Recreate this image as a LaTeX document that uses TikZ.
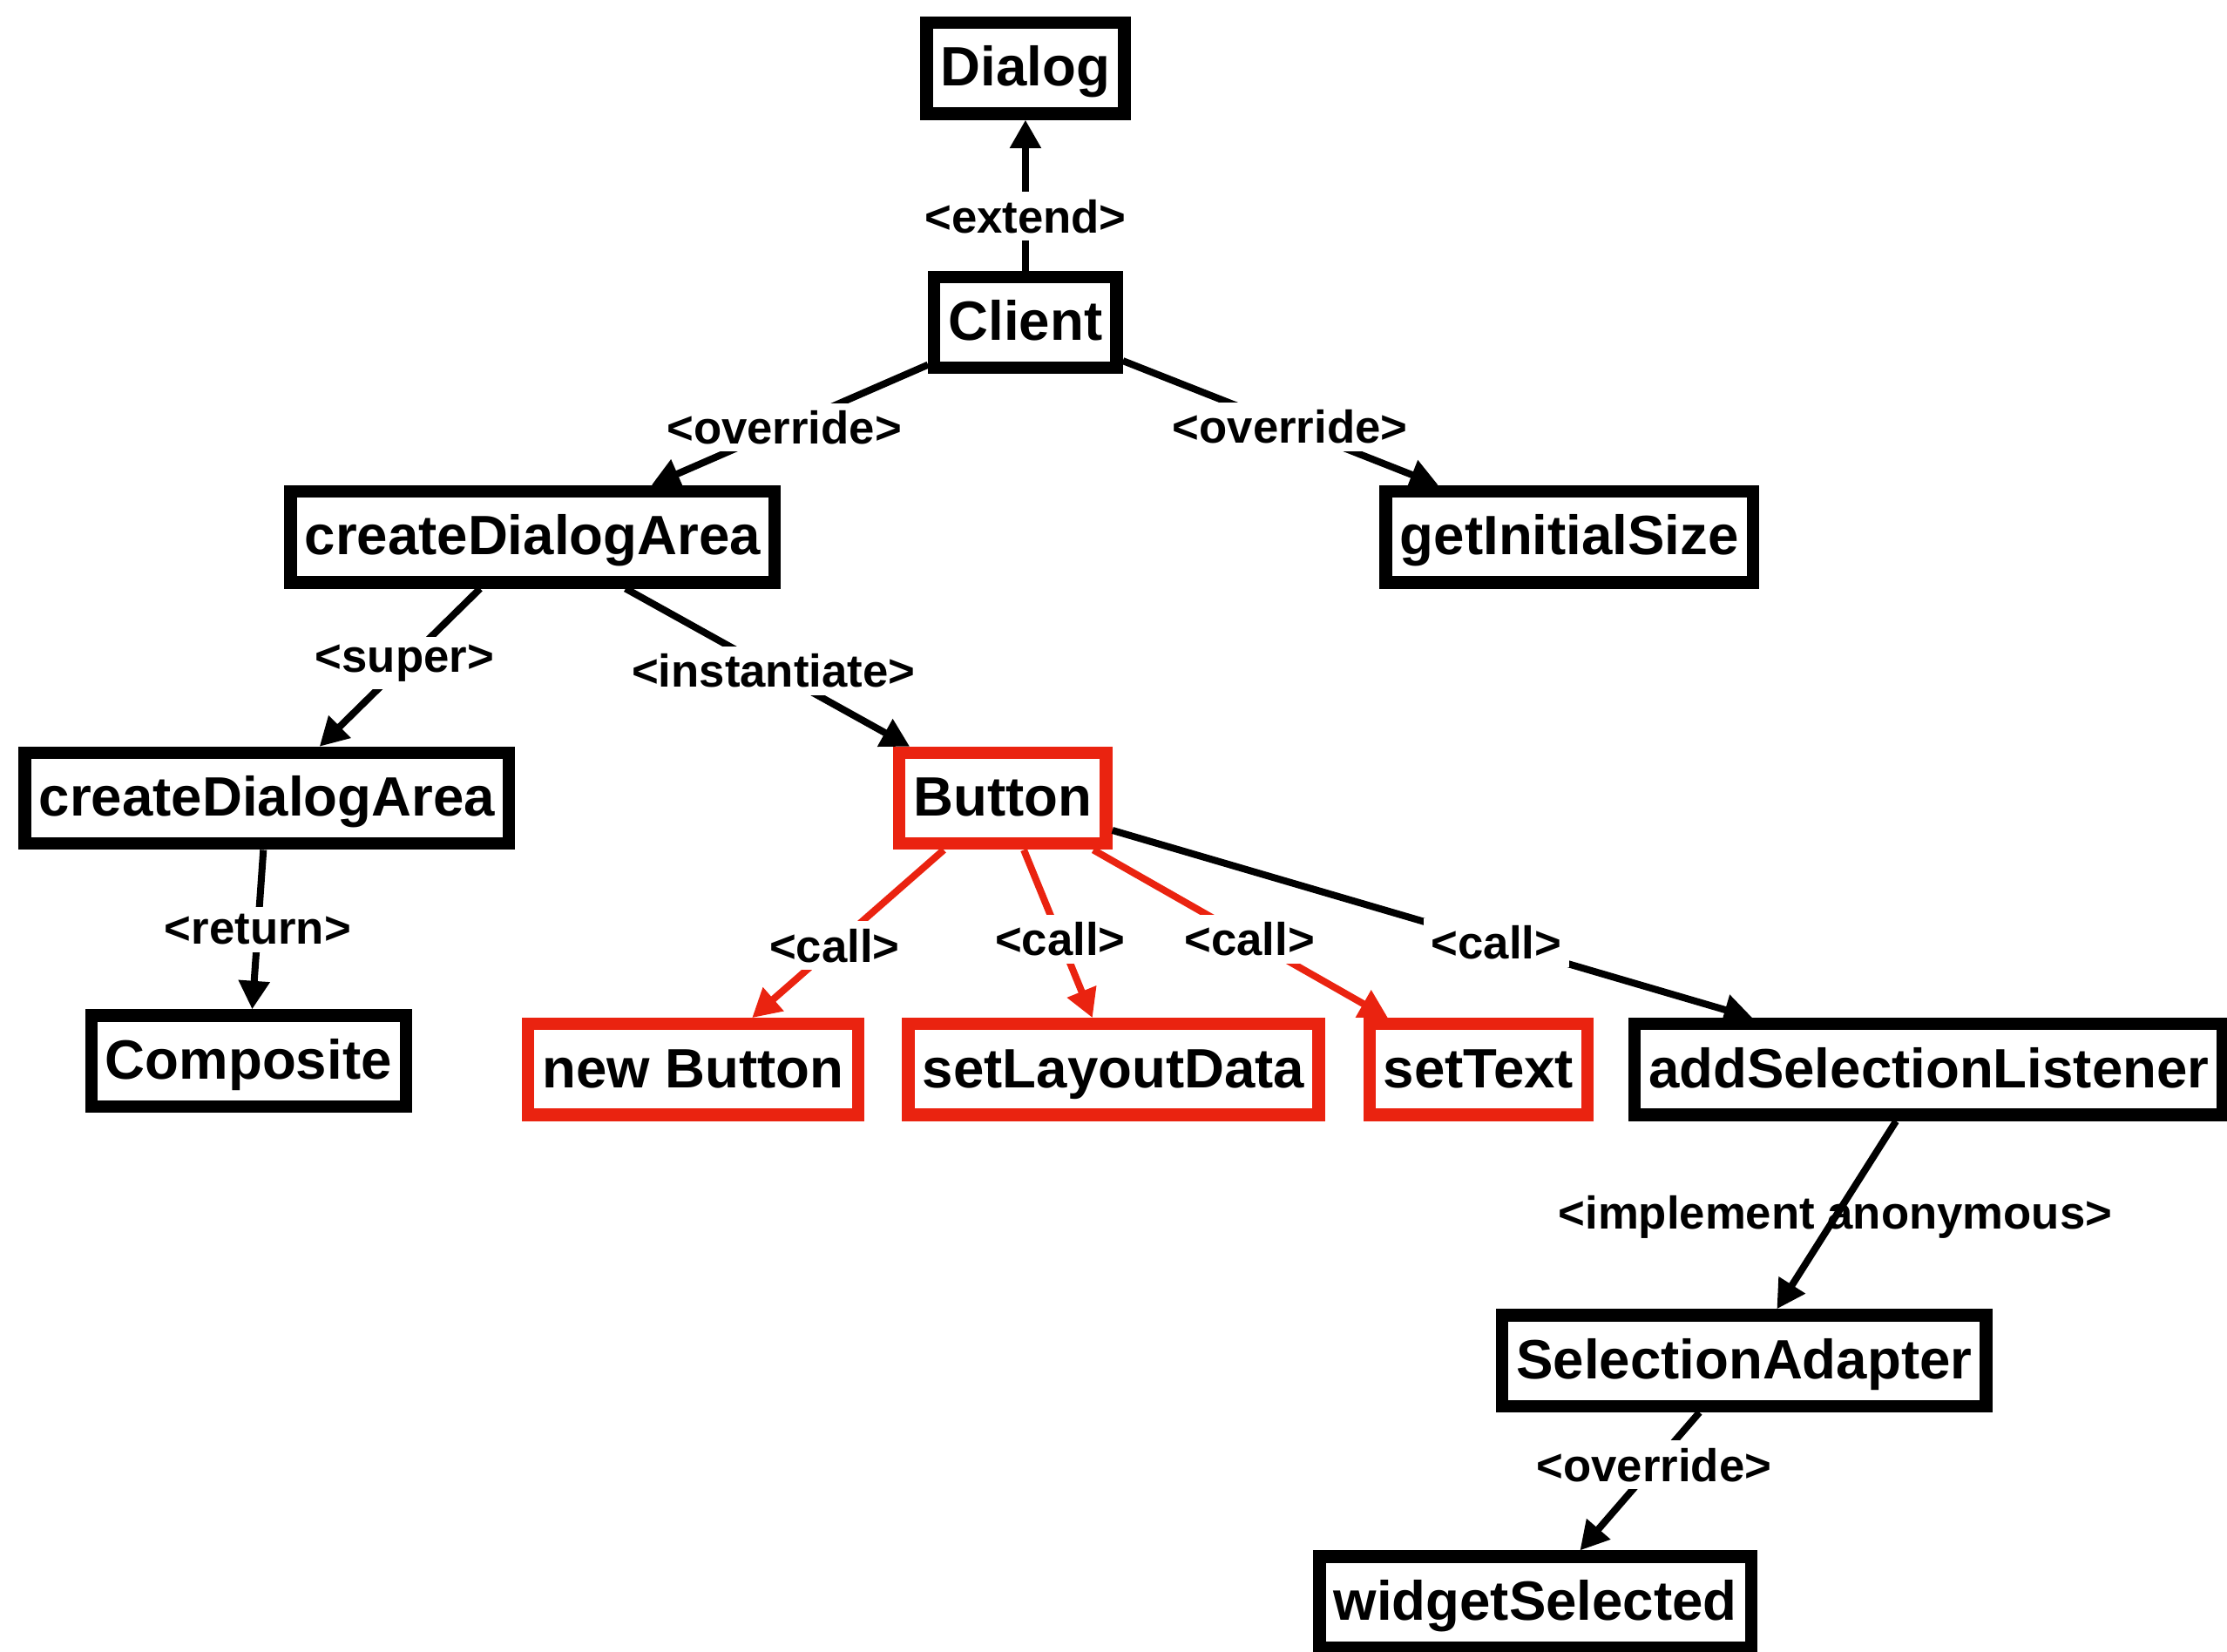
\documentclass[tikz,border=0pt]{standalone}
\usepackage{fontspec}
\setmainfont{Liberation Sans}
\usetikzlibrary{arrows.meta}
\definecolor{callred}{RGB}{234,35,16}

\begin{document}
\begin{tikzpicture}[
  box/.style={draw, line width=2.5pt, font=\fontsize{11.1}{13}\selectfont\bfseries,
    inner xsep=0.1cm, inner ysep=0pt, minimum height=0.64cm,
    text height=0.92em, text depth=0.2em},
  redbox/.style={box, draw=callred},
  link/.style={line width=1.4pt, -{Triangle[length=0.2cm,width=0.21cm]}},
  redlink/.style={link, draw=callred},
  lbl/.style={fill=white, text=black, inner sep=1.5pt, font=\fontsize{9.2}{11}\selectfont\bfseries}
]
\useasboundingbox (0,0) rectangle (15.68,-11.63);

\node[box] (dialog) at (7.22,-0.48) {Dialog};
\node[box] (client) at (7.22,-2.27) {Client};

\node[box] (area) at (3.75,-3.78) {createDialogArea};
\node[box] (size) at (11.05,-3.78) {getInitialSize};

\node[box] (superarea) at (1.88,-5.62) {createDialogArea};
\node[redbox] (button) at (7.06,-5.62) {Button};

\node[box] (composite) at (1.75,-7.47) {Composite};
\node[redbox] (newbtn) at (4.88,-7.53) {new Button};
\node[redbox] (layout) at (7.84,-7.53) {setLayoutData};
\node[redbox] (settext) at (10.41,-7.53) {setText};
\node[box] (addlst) at (13.58,-7.53) {addSelectionListener};

\node[box] (adapter) at (12.28,-9.58) {SelectionAdapter};
\node[box] (selected) at (10.81,-11.28) {widgetSelected};

\draw[link] (client) -- node[lbl, pos=0.36] {<extend>} (dialog);
\draw[link] (client) -- node[lbl, pos=0.52] {<override>} (area);
\draw[link] (client) -- node[lbl, pos=0.53] {<override>} (size);

\draw[link] (area) -- node[lbl, pos=0.47] {<super>} (superarea);
\draw[link] (area) -- node[lbl, pos=0.52] {<instantiate>} (button);
\draw[link] (superarea) -- node[lbl, pos=0.5] {<return>} (composite);

% calls on the button
\draw[redlink] (button) -- node[lbl, pos=0.57] {<call>} (newbtn);
\draw[redlink] (button) -- node[lbl, pos=0.53] {<call>} (layout);
\draw[redlink] (button) -- node[lbl, pos=0.53] {<call>} (settext);
\draw[link] (button) -- node[lbl, pos=0.6] {<call>} (addlst);

\draw[link] (addlst) -- node[lbl, fill=none, pos=0.51] {<implement anonymous>} (adapter);
\draw[link] (adapter) -- node[lbl, pos=0.38] {<override>} (selected);
\end{tikzpicture}
\end{document}
